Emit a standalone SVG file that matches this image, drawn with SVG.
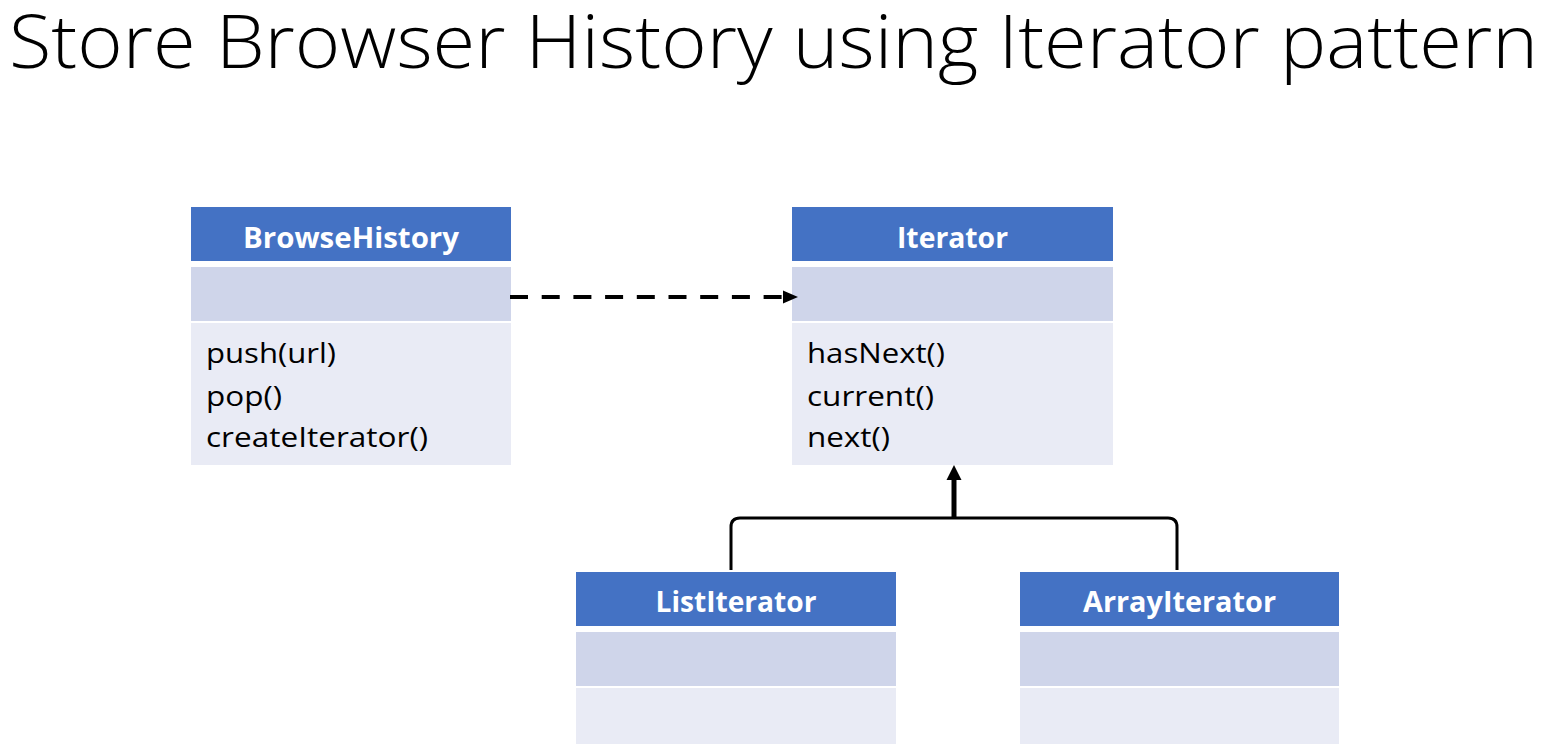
<svg xmlns="http://www.w3.org/2000/svg" width="1547" height="754" viewBox="0 0 1547 754">
<style>
.hd{fill:#4472C4}
.at{fill:#CFD5EA}
.me{fill:#E9EBF5}
.ht{font-family:"Open Sans","Noto Sans","Liberation Sans",sans-serif;font-weight:700;font-size:28px;fill:#FFFFFF;text-anchor:middle}
.mt{font-family:"Open Sans","Noto Sans","Liberation Sans",sans-serif;font-size:28px;fill:#000000}
.title{font-family:"Open Sans","Noto Sans","Liberation Sans",sans-serif;font-weight:300;font-size:74px;fill:#000000}
.conn{fill:none;stroke:#000000}
</style>
<rect width="1547" height="754" fill="#FFFFFF"/>
<text class="title" x="9" y="68" textLength="1529" lengthAdjust="spacingAndGlyphs">Store Browser History using Iterator pattern</text>

<g id="BrowseHistory">
<rect class="hd" x="191" y="207" width="320" height="54"/>
<rect class="at" x="191" y="267" width="320" height="54"/>
<rect class="me" x="191" y="323" width="320" height="142"/>
<text class="ht" x="351" y="248" textLength="216" lengthAdjust="spacingAndGlyphs">BrowseHistory</text>
<text class="mt" x="206" y="363" textLength="130" lengthAdjust="spacingAndGlyphs">push(url)</text>
<text class="mt" x="206" y="406" textLength="76" lengthAdjust="spacingAndGlyphs">pop()</text>
<text class="mt" x="206" y="447" textLength="222" lengthAdjust="spacingAndGlyphs">createIterator()</text>
</g>

<g id="Iterator">
<rect class="hd" x="792" y="207" width="321" height="54"/>
<rect class="at" x="792" y="267" width="321" height="54"/>
<rect class="me" x="792" y="323" width="321" height="142"/>
<text class="ht" x="952.5" y="248" textLength="111" lengthAdjust="spacingAndGlyphs">Iterator</text>
<text class="mt" x="807" y="363" textLength="138" lengthAdjust="spacingAndGlyphs">hasNext()</text>
<text class="mt" x="807" y="406" textLength="127" lengthAdjust="spacingAndGlyphs">current()</text>
<text class="mt" x="807" y="447" textLength="83" lengthAdjust="spacingAndGlyphs">next()</text>
</g>

<g id="ListIterator">
<rect class="hd" x="576" y="572" width="320" height="54"/>
<rect class="at" x="576" y="632" width="320" height="54"/>
<rect class="me" x="576" y="688" width="320" height="56"/>
<text class="ht" x="736" y="612" textLength="161" lengthAdjust="spacingAndGlyphs">ListIterator</text>
</g>

<g id="ArrayIterator">
<rect class="hd" x="1020" y="572" width="319" height="54"/>
<rect class="at" x="1020" y="632" width="319" height="54"/>
<rect class="me" x="1020" y="688" width="319" height="56"/>
<text class="ht" x="1179.5" y="612" textLength="193" lengthAdjust="spacingAndGlyphs">ArrayIterator</text>
</g>

<g id="connectors">
<line class="conn" x1="510" y1="297" x2="784" y2="297" stroke-width="4" stroke-dasharray="18 13.7"/>
<polygon points="783,290.5 798,297 783,303.5" fill="#000000"/>
<path class="conn" d="M731,570 V527 Q731,518 740,518 H1168 Q1177,518 1177,527 V570" stroke-width="3"/>
<line class="conn" x1="954" y1="519" x2="954" y2="478" stroke-width="5"/>
<polygon points="946.5,480 954,465 961.5,480" fill="#000000"/>
</g>
</svg>
